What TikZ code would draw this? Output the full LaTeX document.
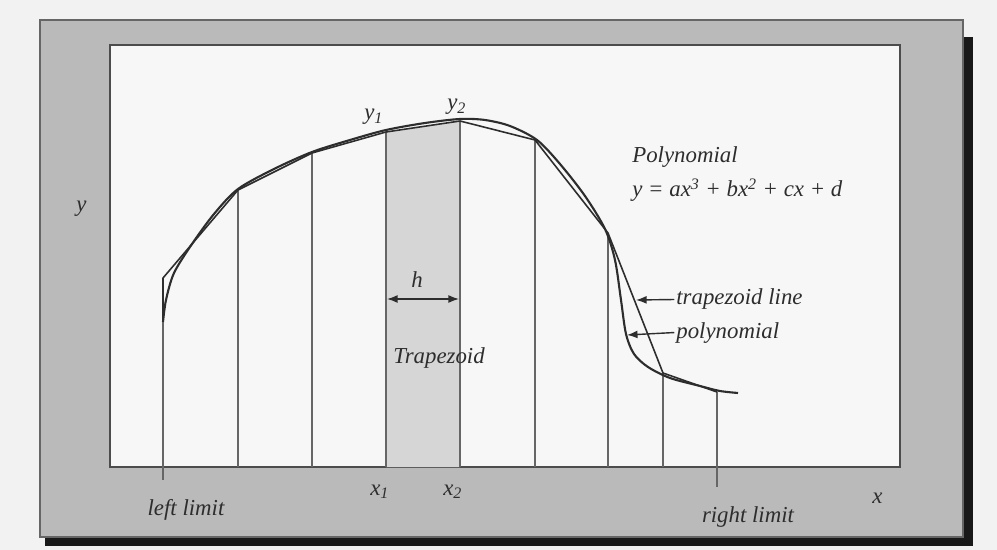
\documentclass[tikz,border=0pt]{standalone}
\usepackage{fontspec}
\setmainfont{Liberation Serif}
\definecolor{pagegray}{RGB}{242,242,242}
\definecolor{framegray}{RGB}{186,186,186}
\definecolor{panelwhite}{RGB}{247,247,247}
\definecolor{stripgray}{RGB}{214,214,214}
\definecolor{inkgray}{RGB}{45,45,45}
\usetikzlibrary{positioning,arrows.meta}

\tikzset{
  lbl/.style={font=\fontsize{13}{15}\selectfont\itshape, inner sep=0pt, text=inkgray, anchor=base west},
  ordinate/.style={draw=black!60, line width=0.6pt},
  curveline/.style={draw=inkgray, line width=1.2pt, line join=round},
  pointer/.style={-{Latex[length=6pt,width=4.5pt]}, draw=inkgray, line width=0.8pt},
}

\begin{document}
\begin{tikzpicture}[x=0.02cm,y=-0.02cm]
    \useasboundingbox (0,0) rectangle (997,550);
    % Page and frame
    \fill[pagegray] (0,0) rectangle (997,550);
    \fill[black!90] (45,37) rectangle (973,546);
    \filldraw[fill=framegray, draw=black!60, line width=0.6pt] (40,20) rectangle (963,537);
    \filldraw[fill=panelwhite, draw=black!70, line width=0.6pt] (110,45) rectangle (900,467);

    % Trapezoid corner points
    \coordinate (base) at (0,467);
    \coordinate (start) at (163,320);
    \foreach \n/\px/\py in {0/163/278, 1/238/190, 2/312/153, 3/386/132, 4/460/121,
                            5/535/140, 6/608/233, 7/663/373, 8/717/392}
        \coordinate (t\n) at (\px,\py);
    \coordinate (leftEnd) at (163,480);
    \coordinate (rightEnd) at (717,487);

    % Shaded trapezoid
    \fill[stripgray] (t3 |- base) -- (t3) -- (t4) -- (t4 |- base) -- cycle;

    % Ordinates
    \foreach \n in {1,...,7}
        \draw[ordinate] (t\n) -- (t\n |- base);
    \draw[ordinate] (t0) -- (leftEnd);
    \draw[ordinate] (t8) -- (rightEnd);

    % Trapezoid line
    \draw[curveline, line width=0.9pt] (start) -- (t0) -- (t1) -- (t2) -- (t3) -- (t4)
        -- (t5) -- (t6) -- (t7) -- (t8);

    % Polynomial
    \draw[curveline] plot[smooth, tension=0.5] coordinates {
        (163,322) (166,300) (174,273) (192,244) (214,214) (238,189) (274,169)
        (312,152) (350,140) (386,130) (425,123) (460,119) (485,120) (510,126)
        (537,140) (560,164) (585,196) (605,229) (615,260) (621,300) (626,334)
        (634,354) (648,367) (670,378) (700,386) (720,391) (738,393)};

    % Step width
    \coordinate (hL) at (387,299);
    \coordinate (hR) at (459,299);
    \draw[{Latex[length=6pt,width=4.5pt]}-{Latex[length=6pt,width=4.5pt]}, draw=inkgray, line width=0.8pt] (hL) -- (hR);
    \node[lbl, anchor=base] (h) at (417,288) {h};

    % Labels
    \node[lbl] (y1) at (364,120) {y\textsubscript{1}};
    \node[lbl] (y2) at (447,110) {y\textsubscript{2}};
    \node[lbl] (yaxis) at (76,212) {y};
    \node[lbl] (xaxis) at (872,503) {x};
    \node[lbl] (x1) at (370,495) {x\textsubscript{1}};
    \node[lbl] (x2) at (443,495) {x\textsubscript{2}};
    \node[lbl, anchor=base] (leftLbl) at (186,515) {left limit};
    \node[lbl, anchor=base] (rightLbl) at (748,522) {right limit};
    \node[lbl] (trap) at (393,363) {Trapezoid};
    \node[lbl] (poly) at (632,163) {Polynomial};
    \node[lbl] (eq) at (632,197) {y = ax\textsuperscript{3} + bx\textsuperscript{2} + cx + d};

    % Curve pointers
    \coordinate (trapTip) at (636,300);
    \coordinate (polyTip) at (627,335);
    \node[lbl] (trapLbl) at (676,305) {trapezoid line};
    \node[lbl] (polyLbl) at (676,338) {polynomial};
    \draw[pointer] ([xshift=-1pt]trapLbl.west) -- (trapTip);
    \draw[pointer] ([xshift=-1pt]polyLbl.west) -- (polyTip);
\end{tikzpicture}
\end{document}
